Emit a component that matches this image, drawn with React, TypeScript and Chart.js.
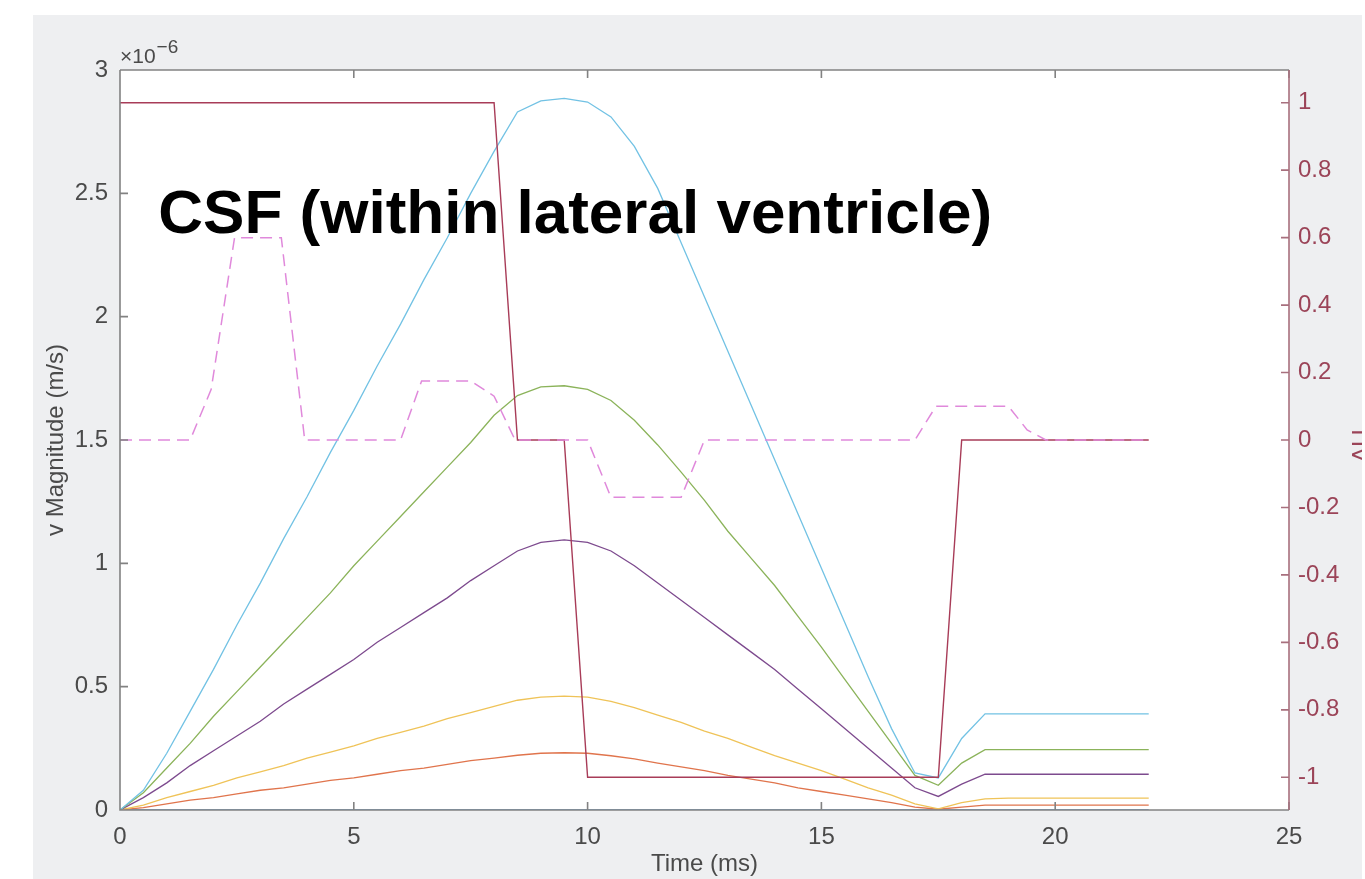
import React, { useEffect, useRef } from "react";
import { Chart, registerables } from "chart.js";

Chart.register(...registerables);

// ---------- data ----------
const timeMs = [0, 0.5, 1, 1.5, 2, 2.5, 3, 3.5, 4, 4.5, 5, 5.5, 6, 6.5, 7, 7.5, 8, 8.5, 9, 9.5, 10, 10.5, 11, 11.5, 12, 12.5, 13, 13.5, 14, 14.5, 15, 15.5, 16, 16.5, 17, 17.5, 18, 18.5, 19, 19.5, 20, 20.5, 21, 21.5, 22];

// velocity magnitudes in units of 1e-6 m/s
const vBlue = [0, 0, 0, 0, 0, 0, 0, 0, 0, 0, 0, 0, 0, 0, 0, 0, 0, 0, 0, 0, 0, 0, 0, 0, 0, 0, 0, 0, 0, 0, 0, 0, 0, 0, 0, 0, 0, 0, 0, 0, 0, 0, 0, 0, 0];
const vOrange = [0, 0.01, 0.025, 0.04, 0.05, 0.065, 0.08, 0.09, 0.105, 0.12, 0.13, 0.145, 0.16, 0.17, 0.185, 0.2, 0.21, 0.222, 0.23, 0.232, 0.23, 0.22, 0.207, 0.19, 0.175, 0.16, 0.14, 0.125, 0.11, 0.09, 0.075, 0.06, 0.045, 0.03, 0.012, 0.003, 0.012, 0.02, 0.02, 0.02, 0.02, 0.02, 0.02, 0.02, 0.02];
const vYellow = [0, 0.02, 0.05, 0.075, 0.1, 0.13, 0.155, 0.18, 0.21, 0.235, 0.26, 0.29, 0.315, 0.34, 0.37, 0.395, 0.42, 0.445, 0.458, 0.462, 0.458, 0.44, 0.415, 0.385, 0.355, 0.32, 0.29, 0.255, 0.22, 0.19, 0.16, 0.125, 0.09, 0.06, 0.025, 0.005, 0.03, 0.045, 0.048, 0.048, 0.048, 0.048, 0.048, 0.048, 0.048];
const vPurple = [0, 0.05, 0.11, 0.18, 0.24, 0.3, 0.36, 0.43, 0.49, 0.55, 0.61, 0.68, 0.74, 0.8, 0.86, 0.93, 0.99, 1.05, 1.085, 1.095, 1.085, 1.05, 0.99, 0.92, 0.85, 0.78, 0.71, 0.64, 0.57, 0.49, 0.41, 0.33, 0.25, 0.17, 0.09, 0.055, 0.105, 0.145, 0.145, 0.145, 0.145, 0.145, 0.145, 0.145, 0.145];
const vGreen = [0, 0.07, 0.17, 0.27, 0.38, 0.48, 0.58, 0.68, 0.78, 0.88, 0.99, 1.09, 1.19, 1.29, 1.39, 1.49, 1.6, 1.68, 1.715, 1.72, 1.705, 1.66, 1.58, 1.48, 1.37, 1.255, 1.13, 1.02, 0.91, 0.785, 0.66, 0.53, 0.4, 0.27, 0.14, 0.1, 0.19, 0.245, 0.245, 0.245, 0.245, 0.245, 0.245, 0.245, 0.245];
const vCyan = [0, 0.08, 0.23, 0.4, 0.57, 0.75, 0.92, 1.1, 1.27, 1.45, 1.62, 1.8, 1.97, 2.15, 2.32, 2.5, 2.67, 2.83, 2.875, 2.885, 2.87, 2.81, 2.69, 2.52, 2.3, 2.08, 1.86, 1.64, 1.42, 1.2, 0.98, 0.76, 0.54, 0.33, 0.15, 0.13, 0.29, 0.39, 0.39, 0.39, 0.39, 0.39, 0.39, 0.39, 0.39];

// right axis: step waveform
const tStep = [0, 8, 8.5, 9.5, 10, 17.5, 18, 22];
const uStep = [1, 1, 0, 0, -1, -1, 0, 0];

// right axis: dashed gradient waveform
const tGrad = [0, 1.5, 1.95, 2.45, 3.45, 3.95, 6, 6.45, 7.5, 8, 8.45, 10, 10.5, 12, 12.5, 17, 17.45, 19, 19.4, 19.8, 22];
const uGrad = [0, 0, 0.15, 0.6, 0.6, 0, 0, 0.175, 0.175, 0.13, 0, 0, -0.17, -0.17, 0, 0, 0.1, 0.1, 0.03, 0, 0];

// ticks
const xTicks = [0, 5, 10, 15, 20, 25];
const leftTicks = [0, 0.5, 1, 1.5, 2, 2.5, 3];
const rightTicks = [-1, -0.8, -0.6, -0.4, -0.2, 0, 0.2, 0.4, 0.6, 0.8, 1];

const titleText = "CSF (within lateral ventricle)";
const xLabel = "Time (ms)";
const yLabel = "v Magnitude (m/s)";
const y2Label = "ΔU";
const expBase = "×10";
const expPower = "−6";
const titleAt = { x: 0.82, y: 2.34 };

// ---------- styles ----------
const FONT = "'Liberation Sans', Arial, Helvetica, sans-serif";
const AXIS_GRAY = "#828282";
const TICK_TEXT = "#4a4a4a";
const RIGHT_AXIS = "#a8707e";
const RIGHT_TEXT = "#9b4458";

const toXY = (xs: number[], ys: number[]) => xs.map((x, i) => ({ x, y: ys[i] }));

const decor = {
  id: "decor",
  beforeDatasetsDraw(chart: any) {
    const { ctx, chartArea } = chart;
    ctx.save();
    ctx.fillStyle = "#ffffff";
    ctx.fillRect(chartArea.left, chartArea.top, chartArea.right - chartArea.left, chartArea.bottom - chartArea.top);
    ctx.restore();
  },
  afterDatasetsDraw(chart: any) {
    const { ctx, chartArea } = chart;
    const { left, right, top, bottom } = chartArea;
    const xs = chart.scales.x;
    const yl = chart.scales.y;
    const yr = chart.scales.y1;
    const TL = 8;
    ctx.save();
    ctx.lineWidth = 1.6;
    ctx.strokeStyle = AXIS_GRAY;
    ctx.beginPath();
    ctx.moveTo(left, top);
    ctx.lineTo(left, bottom);
    ctx.lineTo(right, bottom);
    ctx.moveTo(left, top);
    ctx.lineTo(right, top);
    xTicks.forEach((v) => {
      const px = xs.getPixelForValue(v);
      ctx.moveTo(px, bottom);
      ctx.lineTo(px, bottom - TL);
      ctx.moveTo(px, top);
      ctx.lineTo(px, top + TL);
    });
    leftTicks.forEach((v) => {
      const py = yl.getPixelForValue(v);
      ctx.moveTo(left, py);
      ctx.lineTo(left + TL, py);
    });
    ctx.stroke();
    ctx.strokeStyle = RIGHT_AXIS;
    ctx.beginPath();
    ctx.moveTo(right, top);
    ctx.lineTo(right, bottom);
    rightTicks.forEach((v) => {
      const py = yr.getPixelForValue(v);
      ctx.moveTo(right, py);
      ctx.lineTo(right - TL, py);
    });
    ctx.stroke();
    ctx.restore();
  },
  afterDraw(chart: any) {
    const { ctx, chartArea } = chart;
    const xs = chart.scales.x;
    const yl = chart.scales.y;
    ctx.save();
    // exponent label
    ctx.fillStyle = TICK_TEXT;
    ctx.textBaseline = "alphabetic";
    ctx.textAlign = "left";
    ctx.font = `21px ${FONT}`;
    const baseX = chartArea.left;
    const baseY = chartArea.top - 7;
    ctx.fillText(expBase, baseX, baseY);
    const w = ctx.measureText(expBase).width;
    ctx.font = `19px ${FONT}`;
    ctx.fillText(expPower, baseX + w + 1, baseY - 10);
    // annotation title
    ctx.fillStyle = "#000000";
    ctx.font = `bold 62px ${FONT}`;
    ctx.fillText(titleText, xs.getPixelForValue(titleAt.x), yl.getPixelForValue(titleAt.y));
    // right y label, rotated, partly out of view
    ctx.fillStyle = RIGHT_TEXT;
    ctx.font = `24px ${FONT}`;
    ctx.translate(chartArea.right + 73, (chartArea.top + chartArea.bottom) / 2 + 6);
    ctx.rotate(-Math.PI / 2);
    ctx.textAlign = "center";
    ctx.textBaseline = "middle";
    ctx.fillText(y2Label, 0, 0);
    ctx.restore();
  },
};

export default function App() {
  const ref = useRef<HTMLCanvasElement>(null);
  useEffect(() => {
    if (!ref.current) return;
    Chart.defaults.font.family = FONT;
    const lw = 1.3;
    const mk = (label: string, ys: number[], color: string, order: number) => ({
      label,
      data: toXY(timeMs, ys),
      borderColor: color,
      backgroundColor: color,
      borderWidth: lw,
      pointRadius: 0,
      fill: false,
      tension: 0,
      yAxisID: "y",
      order,
    });
    const chart = new Chart(ref.current, {
      type: "line",
      data: {
        datasets: [
          mk("v1", vBlue, "#4f8fc8", 8),
          mk("v2", vOrange, "#e0744c", 7),
          mk("v3", vYellow, "#efc358", 6),
          mk("v4", vPurple, "#7d4a8e", 5),
          mk("v5", vGreen, "#8bb35a", 4),
          mk("v6", vCyan, "#72c2e4", 3),
          {
            label: "step",
            data: toXY(tStep, uStep),
            borderColor: "#a83c58",
            borderWidth: 1.4,
            pointRadius: 0,
            fill: false,
            tension: 0,
            yAxisID: "y1",
            order: 2,
          },
          {
            label: "grad",
            data: toXY(tGrad, uGrad),
            borderColor: "#e089db",
            borderWidth: 1.5,
            borderDash: [12, 7],
            pointRadius: 0,
            fill: false,
            tension: 0,
            yAxisID: "y1",
            order: 1,
          },
        ],
      },
      options: {
        responsive: false,
        animation: false,
        events: [],
        layout: { padding: { top: 55, left: 0, right: 0, bottom: 0 } },
        plugins: {
          legend: { display: false },
          tooltip: { enabled: false },
          title: { display: false },
        },
        scales: {
          x: {
            type: "linear",
            min: 0,
            max: 25,
            afterBuildTicks: (s: any) => {
              s.ticks = xTicks.map((v) => ({ value: v }));
            },
            afterFit: (s: any) => {
              s.height = 69;
            },
            grid: { display: false, drawTicks: false },
            border: { display: false },
            ticks: {
              color: TICK_TEXT,
              font: { size: 24 },
              padding: 13,
              maxRotation: 0,
              autoSkip: false,
              callback: (v: any) => String(v),
            },
            title: {
              display: true,
              text: xLabel,
              color: TICK_TEXT,
              font: { size: 24 },
              padding: { top: 0, bottom: 0 },
            },
          },
          y: {
            type: "linear",
            position: "left",
            min: 0,
            max: 3,
            afterBuildTicks: (s: any) => {
              s.ticks = leftTicks.map((v) => ({ value: v }));
            },
            afterFit: (s: any) => {
              s.width = 87;
            },
            grid: { display: false, drawTicks: false },
            border: { display: false },
            ticks: {
              color: TICK_TEXT,
              font: { size: 24 },
              padding: 12,
              autoSkip: false,
              callback: (v: any) => String(v),
            },
            title: {
              display: true,
              text: yLabel,
              color: TICK_TEXT,
              font: { size: 24 },
              padding: { top: 9, bottom: 0 },
            },
          },
          y1: {
            type: "linear",
            position: "right",
            min: -1.097,
            max: 1.097,
            afterBuildTicks: (s: any) => {
              s.ticks = rightTicks.map((v) => ({ value: v }));
            },
            afterFit: (s: any) => {
              s.width = 144;
            },
            grid: { display: false, drawTicks: false },
            border: { display: false },
            ticks: {
              color: RIGHT_TEXT,
              font: { size: 24 },
              padding: 9,
              autoSkip: false,
              callback: (v: any) => String(Math.round(v * 10) / 10),
            },
          },
        },
      },
      plugins: [decor],
    } as any);
    return () => chart.destroy();
  }, []);

  return (
    <div style={{ position: "fixed", left: 0, top: 0, width: 1365, height: 879, background: "#ffffff", overflow: "hidden" }}>
      <div style={{ position: "absolute", left: 33, top: 15, width: 1329, height: 864, background: "#eeeff1", overflow: "hidden" }}>
        <canvas ref={ref} width={1400} height={864} style={{ position: "absolute", left: 0, top: 0, display: "block" }} />
      </div>
    </div>
  );
}
